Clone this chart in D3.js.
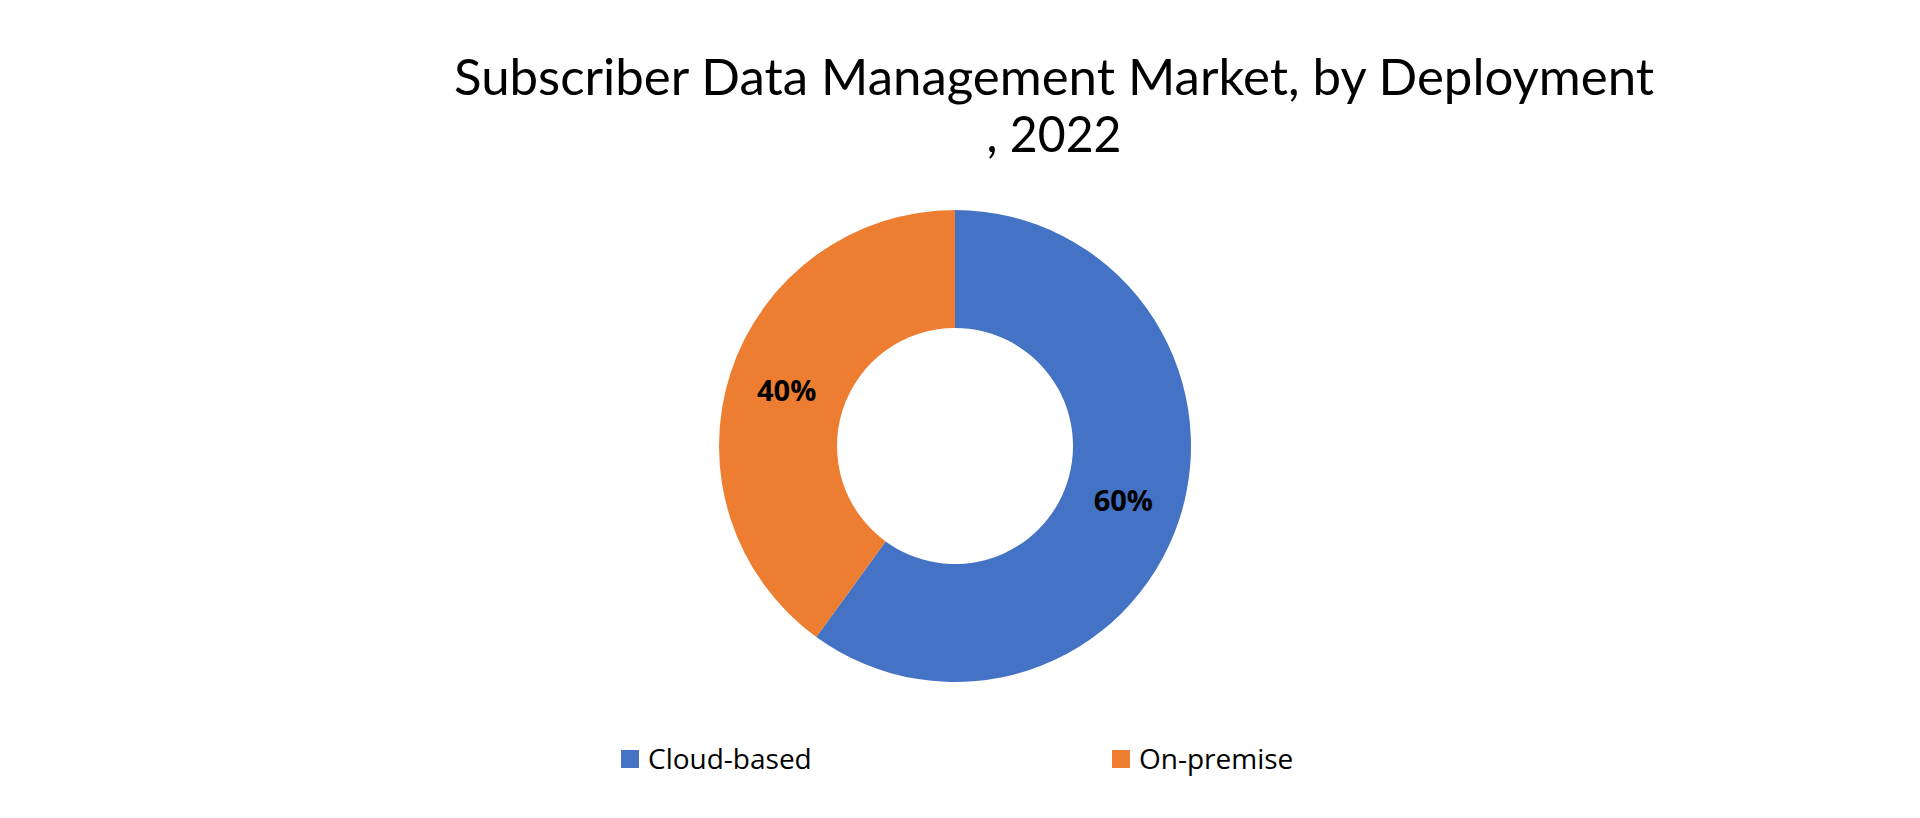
<!DOCTYPE html>
<html>
<head>
<meta charset="utf-8">
<script src="https://cdn.jsdelivr.net/npm/d3@7"></script>
<style>
	body { margin: 0; background: #fff; }
	svg { display: block; }
</style>
</head>
<body>
<div id="chart"></div>
<script>
var categories = ["Cloud-based", "On-premise"];
var shares = [60, 40];
var sliceLabels = ["60%", "40%"];
var titleLines = ["Subscriber Data Management Market, by Deployment", ", 2022"];

var width = 1920, height = 818;
var cx = 955, cy = 446;
var outerR = 236, innerR = 118;

var color = d3.scaleOrdinal()
	.domain(categories)
	.range(["#4472C4", "#ED7D31"]);

var svg = d3.select("#chart")
	.append("svg")
	.attr("width", width)
	.attr("height", height);

// title, stretched to the width seen in the picture
var titleWidths = [1200, 135];
svg.selectAll("text.title")
	.data(titleLines)
	.enter().append("text")
	.attr("class", "title")
	.attr("x", 1054)
	.attr("y", function(d, i) { return 95 + i * 57; })
	.attr("text-anchor", "middle")
	.attr("font-family", "Lato, 'Noto Sans', sans-serif")
	.attr("font-size", 50)
	.attr("fill", "#000")
	.attr("textLength", function(d, i) { return titleWidths[i]; })
	.attr("lengthAdjust", "spacingAndGlyphs")
	.text(function(d) { return d; });

var data = categories.map(function(c, i) {
	return { name: c, value: shares[i], label: sliceLabels[i] };
});

var pie = d3.pie()
	.value(function(d) { return d.value; })
	.sort(null);

var arc = d3.arc()
	.innerRadius(innerR)
	.outerRadius(outerR);

var g = svg.append("g")
	.attr("transform", "translate(" + cx + "," + cy + ")");

var slices = g.selectAll("g.slice")
	.data(pie(data))
	.enter().append("g")
	.attr("class", "slice");

slices.append("path")
	.attr("d", arc)
	.attr("fill", function(d) { return color(d.data.name); });

slices.append("text")
	.attr("transform", function(d) { return "translate(" + arc.centroid(d) + ")"; })
	.attr("text-anchor", "middle")
	.attr("dy", "0.35em")
	.attr("font-family", "'Open Sans', 'Noto Sans', sans-serif")
	.attr("font-weight", "bold")
	.attr("font-size", 29)
	.attr("fill", "#000")
	.text(function(d) { return d.data.label; });

// legend
var legendX = [621, 1112];
var legend = svg.selectAll("g.legend")
	.data(categories)
	.enter().append("g")
	.attr("class", "legend")
	.attr("transform", function(d, i) { return "translate(" + legendX[i] + ",750)"; });

legend.append("rect")
	.attr("width", 18)
	.attr("height", 18)
	.attr("fill", function(d) { return color(d); });

legend.append("text")
	.attr("x", 27)
	.attr("y", 19)
	.attr("font-family", "'Open Sans', 'Noto Sans', sans-serif")
	.attr("font-size", 28)
	.attr("fill", "#000")
	.text(function(d) { return d; });
</script>
</body>
</html>
